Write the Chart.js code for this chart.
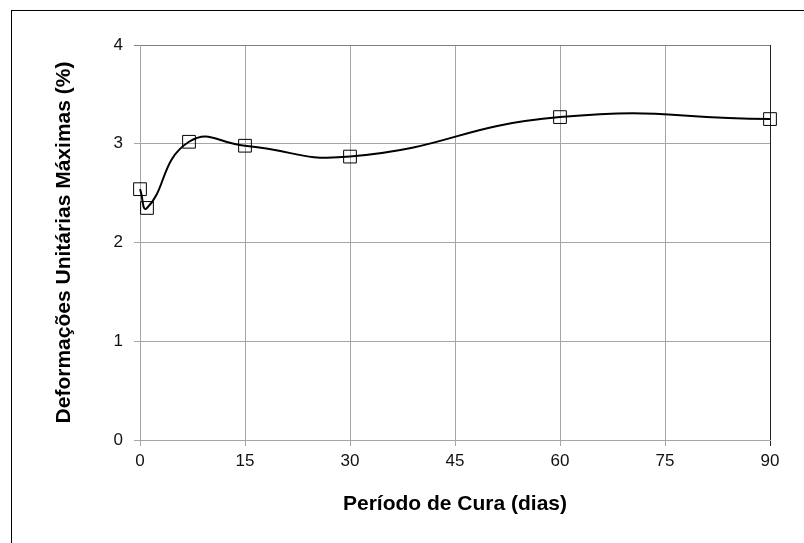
<!DOCTYPE html>
<html>
<head>
<meta charset="utf-8">
<script src="https://cdn.jsdelivr.net/npm/chart.js@4.4.0/dist/chart.umd.min.js"></script>
<style>
  html, body { margin: 0; padding: 0; background: #fff; overflow: hidden; }
</style>
</head>
<body>
<canvas id="grafico" width="804" height="543"></canvas>
<script>
// dados
const dias = [0, 1, 7, 15, 30, 60, 90];
const deformacoes = [2.54, 2.35, 3.02, 2.98, 2.87, 3.27, 3.25];
const ticksX = [0, 15, 30, 45, 60, 75, 90];
const ticksY = [0, 1, 2, 3, 4];

const fonte = "'Liberation Sans', Arial, sans-serif";

// moldura externa (tipo Excel)
const moldura = {
    id: 'moldura',
    beforeDraw(chart){
        const ctx = chart.ctx;
        ctx.save();
        ctx.fillStyle = '#fff';
        ctx.fillRect(0, 0, chart.width, chart.height);
        ctx.strokeStyle = '#000';
        ctx.lineWidth = 1;
        ctx.strokeRect(11.5, 10.5, 900, 700);
        ctx.restore();
    }
};

new Chart(document.getElementById('grafico'), {
    type: 'line',
    data: {
        datasets: [{
            data: dias.map((d, i) => ({x: d, y: deformacoes[i]})),
            borderColor: '#000',
            borderWidth: 2,
            tension: 0.5,
            fill: false,
            clip: false,
            pointStyle: 'rect',
            pointRadius: 9,
            pointBorderWidth: 1,
            pointBorderColor: '#000',
            pointBackgroundColor: 'rgba(255,255,255,0)'
        }]
    },
    options: {
        responsive: false,
        animation: false,
        layout: {padding: {top: 45, right: 34, left: 0, bottom: 0}},
        plugins: {legend: {display: false}, tooltip: {enabled: false}},
        scales: {
            x: {
                type: 'linear',
                min: 0,
                max: 90,
                afterBuildTicks: s => { s.ticks = ticksX.map(v => ({value: v})); },
                afterFit: s => { s.height = 103; },
                grid: {
                    color: c => (c.tick && c.tick.value === 90) ? '#222' : '#a6a6a6',
                    tickLength: 6,
                    lineWidth: 1
                },
                border: {color: '#a6a6a6'},
                ticks: {color: '#111', font: {family: fonte, size: 17}, padding: 5, maxRotation: 0},
                title: {
                    display: true,
                    text: 'Período de Cura (dias)',
                    color: '#000',
                    font: {family: fonte, size: 21, weight: 'bold'},
                    padding: {top: 0, bottom: 26}
                }
            },
            y: {
                min: 0,
                max: 4,
                afterBuildTicks: s => { s.ticks = ticksY.map(v => ({value: v})); },
                afterFit: s => { s.width = 140; },
                grid: {
                    color: c => (c.tick && c.tick.value === 4) ? '#808080' : '#a6a6a6',
                    tickLength: 6,
                    lineWidth: 1
                },
                border: {color: '#a6a6a6'},
                ticks: {color: '#111', font: {family: fonte, size: 17}, padding: 11},
                title: {
                    display: true,
                    text: 'Deformações Unitárias Máximas (%)',
                    color: '#000',
                    font: {family: fonte, size: 21, weight: 'bold'},
                    padding: {top: 52, bottom: 0}
                }
            }
        }
    },
    plugins: [moldura]
});
</script>
</body>
</html>
